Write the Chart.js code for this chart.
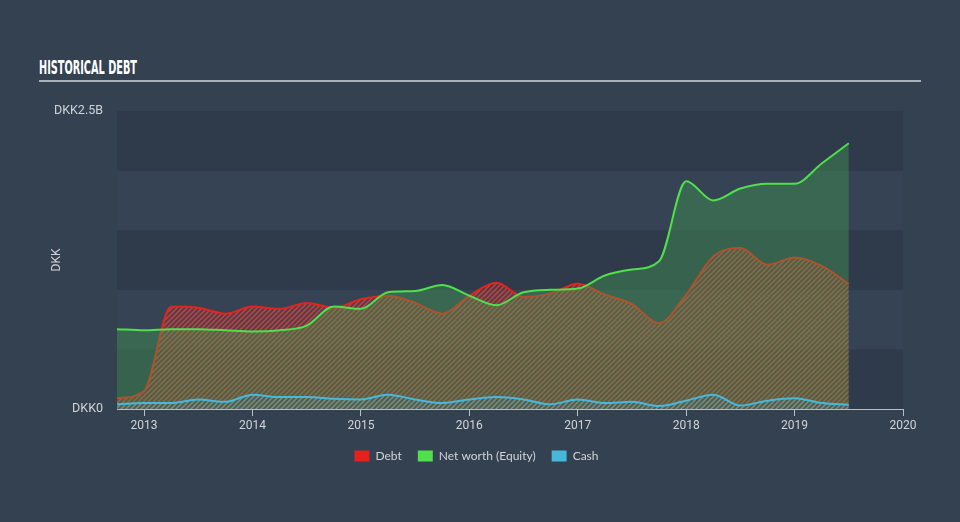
<!DOCTYPE html>
<html>
<head>
<meta charset="utf-8">
<script src="https://cdn.jsdelivr.net/npm/chart.js@4/dist/chart.umd.min.js"></script>
<style>
  html, body { margin: 0; padding: 0; background: #344151; }
  #wrap { position: relative; width: 960px; height: 522px; }
  #title {
    position: absolute; left: 39px; top: 56px;
    font-family: "DejaVu Sans Condensed", "Liberation Sans Narrow", "Roboto", sans-serif;
    font-weight: bold; font-size: 19px; color: #ffffff; white-space: nowrap;
    transform: scaleX(0.57); transform-origin: left top;
  }
  #rule { position: absolute; left: 39px; top: 80px; width: 882px; height: 2px; background: #a9b1ba; }
  canvas { position: absolute; left: 0; top: 0; }
</style>
</head>
<body>
<div id="wrap">
  <div id="title">HISTORICAL DEBT</div>
  <div id="rule"></div>
  <canvas id="myChart" width="960" height="522"></canvas>
</div>
<script>
// quarters as decimal years
let quarters = [2012.75, 2013.0, 2013.25, 2013.5, 2013.75, 2014.0, 2014.25, 2014.5, 2014.75,
    2015.0, 2015.25, 2015.5, 2015.75, 2016.0, 2016.25, 2016.5, 2016.75, 2017.0, 2017.25,
    2017.5, 2017.75, 2018.0, 2018.25, 2018.5, 2018.75, 2019.0, 2019.25, 2019.5]
// values in DKK billions
let debt = [0.09, 0.15, 0.86, 0.85, 0.80, 0.86, 0.84, 0.89, 0.85, 0.92, 0.95, 0.89, 0.80, 0.95,
    1.06, 0.94, 0.97, 1.05, 0.96, 0.88, 0.72, 0.96, 1.28, 1.35, 1.21, 1.27, 1.20, 1.05]
let equity = [0.67, 0.66, 0.67, 0.67, 0.66, 0.65, 0.66, 0.70, 0.86, 0.84, 0.98, 0.99, 1.04, 0.95,
    0.87, 0.98, 1.00, 1.01, 1.12, 1.17, 1.24, 1.91, 1.75, 1.85, 1.89, 1.89, 2.06, 2.23]
let cash = [0.04, 0.05, 0.05, 0.08, 0.06, 0.12, 0.10, 0.10, 0.085, 0.08, 0.12, 0.08, 0.05, 0.08,
    0.10, 0.08, 0.04, 0.08, 0.05, 0.06, 0.025, 0.07, 0.12, 0.03, 0.07, 0.09, 0.05, 0.035]
let yearTicks = [2013, 2014, 2015, 2016, 2017, 2018, 2019, 2020]
let seriesNames = ['Debt', 'Net worth (Equity)', 'Cash']
let legendColors = ['#e5201f', '#4fe04c', '#47b8dc']

let ctx = document.getElementById('myChart').getContext('2d')

function hatch(stripe, back) {
    let c = document.createElement('canvas')
    c.width = 5; c.height = 5
    let g = c.getContext('2d')
    if (back) { g.fillStyle = back; g.fillRect(0, 0, 5, 5) }
    g.strokeStyle = stripe
    g.lineWidth = 1.3
    g.beginPath()
    g.moveTo(-1, 6); g.lineTo(6, -1)
    g.moveTo(-1, 1); g.lineTo(1, -1)
    g.moveTo(4, 6); g.lineTo(6, 4)
    g.stroke()
    return ctx.createPattern(c, 'repeat')
}

// alternating horizontal bands behind the plot
let bands = {
    id: 'bands',
    beforeDatasetsDraw(chart) {
        let y = chart.scales.y, a = chart.chartArea, c = chart.ctx
        c.save()
        for (let v = 0; v < 2.5; v += 0.5) {
            let i = Math.round(v / 0.5)
            c.fillStyle = i % 2 === 0 ? '#2f3b4b' : '#354354'
            let top = y.getPixelForValue(v + 0.5), bot = y.getPixelForValue(v)
            c.fillRect(a.left, top, a.right - a.left, bot - top)
        }
        c.restore()
    }
}

let chart = new Chart(ctx, {
    type: 'line',
    data: {
        datasets: [{
            label: seriesNames[0],
            data: quarters.map((q, i) => ({x: q, y: debt[i]})),
            borderColor: '#e5231d',
            backgroundColor: hatch('rgba(222,70,50,0.85)', 'rgba(170,50,70,0.28)'),
            fill: 'origin',
            order: 3
        }, {
            label: seriesNames[1],
            data: quarters.map((q, i) => ({x: q, y: equity[i]})),
            borderColor: '#4fe04c',
            backgroundColor: 'rgba(70,170,80,0.36)',
            fill: 'origin',
            order: 2
        }, {
            label: seriesNames[2],
            data: quarters.map((q, i) => ({x: q, y: cash[i]})),
            borderColor: '#47b8dc',
            backgroundColor: hatch('rgba(90,170,200,0.6)', null),
            fill: 'origin',
            order: 1
        }]
    },
    options: {
        responsive: false,
        animation: false,
        layout: { padding: { left: 50, right: 57, top: 111, bottom: 50 } },
        elements: {
            point: { radius: 0 },
            line: { borderWidth: 2, cubicInterpolationMode: 'monotone' }
        },
        scales: {
            x: {
                type: 'linear',
                min: 2012.75,
                max: 2020,
                afterFit: s => { s.height = 25 },
                afterBuildTicks: s => { s.ticks = yearTicks.map(v => ({value: v})) },
                ticks: {
                    includeBounds: false,
                    color: '#d0d4d9',
                    padding: 3,
                    font: { family: 'Roboto', size: 12 },
                    callback: v => String(v)
                },
                grid: { drawOnChartArea: false, tickLength: 7, color: '#b9bfc7' },
                border: { color: '#b9bfc7', width: 1 }
            },
            y: {
                min: 0,
                max: 2.5,
                afterFit: s => { s.width = 67 },
                ticks: {
                    stepSize: 0.5,
                    padding: 14,
                    color: '#d0d4d9',
                    font: { family: 'Roboto', size: 12.5 },
                    callback: v => v === 0 ? 'DKK0' : (v === 2.5 ? 'DKK2.5B' : '')
                },
                grid: { display: false, drawTicks: false },
                border: { display: false },
                title: {
                    display: true,
                    text: 'DKK',
                    color: '#d0d4d9',
                    font: { family: 'Roboto', size: 12 },
                    padding: { top: 0, bottom: 0 }
                }
            }
        },
        plugins: {
            tooltip: { enabled: false },
            legend: {
                position: 'bottom',
                labels: {
                    boxWidth: 15,
                    boxHeight: 11,
                    padding: 16,
                    color: '#d0d4d9',
                    font: { family: 'Lato', size: 12 },
                    generateLabels: chart => chart.data.datasets.map((d, i) => ({
                        text: d.label,
                        fillStyle: legendColors[i],
                        strokeStyle: legendColors[i],
                        lineWidth: 0,
                        fontColor: '#d0d4d9',
                        datasetIndex: i
                    }))
                }
            }
        }
    },
    plugins: [bands]
})
</script>
</body>
</html>
